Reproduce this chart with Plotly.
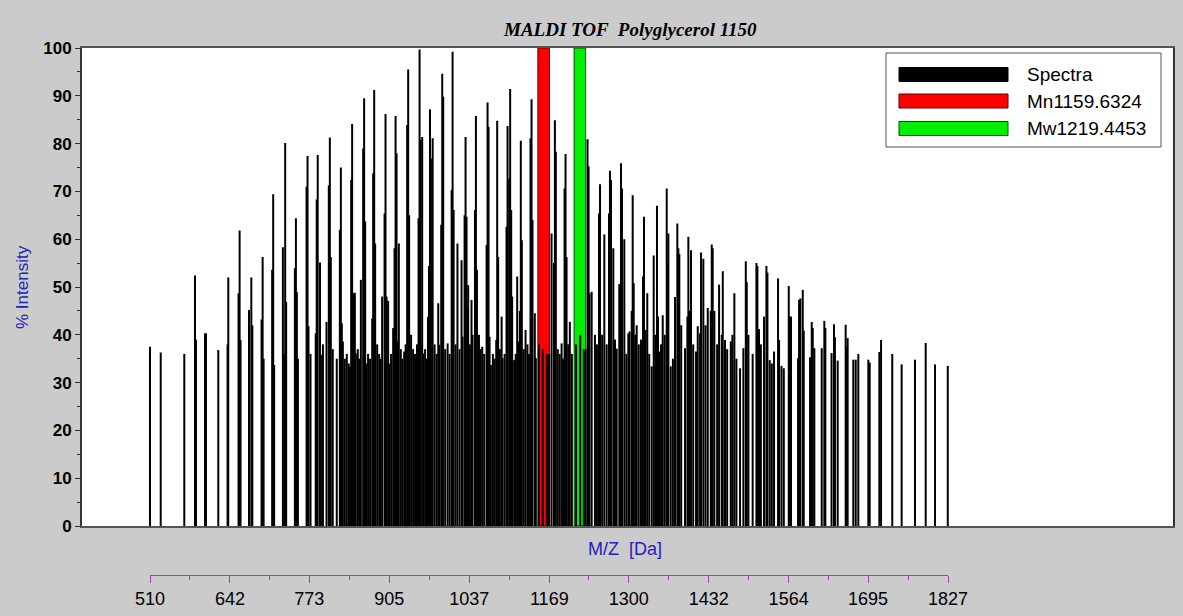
import plotly.graph_objects as go

# ---------------- data ----------------
mz = [510.0, 527.7, 566.6, 584.3, 585.9, 600.8, 602.4, 622.7, 638.0, 639.2,
      656.1, 657.9, 659.4, 673.4, 677.2, 678.9, 694.1, 695.9, 697.5, 711.6,
      713.3, 714.9, 729.3, 731.5, 733.1, 734.7, 749.1, 750.8, 752.4, 754.1,
      768.4, 770.0, 771.6, 783.5, 785.1, 786.8, 790.6, 792.1, 801.3, 805.1,
      806.8, 808.4, 823.3, 825.0, 826.6, 828.3, 840.3, 842.0, 843.6, 845.3,
      848.1, 849.7, 858.0, 861.8, 863.4, 865.1, 866.7, 876.7, 878.3, 880.0,
      881.6, 893.1, 897.1, 898.7, 900.4, 903.0, 904.7, 911.3, 913.6, 915.3,
      916.9, 918.6, 920.7, 929.5, 934.4, 936.1, 937.7, 953.2, 954.9, 956.5,
      959.2, 960.8, 968.8, 970.4, 972.1, 973.7, 976.5, 985.7, 987.3, 990.6,
      992.3, 993.9, 1001.2, 1007.8, 1009.4, 1011.1, 1017.4, 1024.2, 1025.8, 1029.2,
      1030.8, 1032.4, 1033.8, 1035.1, 1040.6, 1042.3, 1046.3, 1047.9, 1049.6, 1058.3,
      1065.5, 1067.1, 1068.7, 1070.4, 1072.6, 1081.4, 1083.0, 1084.6, 1090.3, 1091.9,
      1098.4, 1100.1, 1102.8, 1104.4, 1106.1, 1107.7, 1111.0, 1116.0, 1117.6, 1120.4,
      1122.0, 1123.7, 1129.8, 1138.0, 1139.7, 1141.3, 1145.1, 1146.8, 1152.0, 1158.0,
      1165.0, 1168.8, 1172.7, 1176.5, 1178.2, 1179.8, 1189.3, 1194.2, 1195.8, 1197.5,
      1202.9, 1213.0, 1220.0, 1226.0, 1232.1, 1233.8, 1235.4, 1238.9, 1244.3, 1251.0,
      1252.7, 1259.8, 1267.5, 1269.1, 1270.8, 1274.6, 1280.2, 1284.5, 1287.3, 1289.0,
      1292.8, 1299.4, 1301.5, 1305.0, 1306.6, 1308.3, 1313.2, 1320.3, 1323.6, 1325.3,
      1330.7, 1338.0, 1341.3, 1346.7, 1348.4, 1350.6, 1356.2, 1362.8, 1364.5, 1365.5,
      1369.4, 1376.5, 1380.3, 1382.0, 1383.6, 1393.0, 1396.9, 1398.5, 1402.9, 1411.2,
      1414.0, 1417.8, 1419.4, 1423.2, 1430.5, 1435.4, 1437.1, 1438.7, 1449.2, 1453.6,
      1455.3, 1459.0, 1468.5, 1474.4, 1483.8, 1489.3, 1493.3, 1494.9, 1504.6, 1510.8,
      1512.4, 1515.1, 1523.4, 1527.3, 1529.0, 1532.8, 1539.9, 1546.5, 1548.2, 1552.2,
      1564.2, 1565.8, 1567.9, 1579.5, 1581.2, 1583.3, 1587.3, 1588.9, 1599.3, 1602.1,
      1603.8, 1606.4, 1618.6, 1622.9, 1624.6, 1634.8, 1638.8, 1640.4, 1644.9, 1658.1,
      1659.8, 1661.4, 1670.7, 1674.7, 1679.0, 1695.5, 1697.8, 1713.7, 1716.5, 1735.0,
      1750.5, 1772.5, 1790.2, 1805.6, 1826.6]

intensity = [37.5, 36.3, 36.0, 52.4, 39.0, 40.3, 40.3, 36.8, 38.0, 52.0,
             48.7, 61.8, 38.9, 45.2, 52.0, 42.0, 43.2, 56.3, 35.0, 53.6,
             69.4, 33.7, 58.3, 36.0, 80.1, 46.9, 53.9, 64.4, 49.0, 35.0,
             71.0, 77.4, 41.8, 40.3, 68.3, 77.6, 55.1, 35.8, 42.7, 71.3,
             81.3, 56.3, 62.0, 75.0, 42.4, 38.6, 33.3, 72.4, 84.1, 48.7,
             48.8, 36.1, 51.5, 79.0, 89.5, 63.7, 34.0, 43.4, 73.8, 91.2,
             59.1, 48.0, 65.4, 86.2, 48.0, 47.1, 34.0, 41.4, 58.1, 85.8,
             78.0, 38.6, 59.1, 36.5, 83.9, 95.5, 65.0, 64.4, 99.7, 80.8,
             81.4, 36.1, 43.8, 54.4, 87.2, 76.9, 81.1, 46.6, 37.9, 63.0,
             94.6, 89.8, 38.2, 70.3, 99.2, 66.1, 59.1, 55.6, 39.6, 65.0,
             81.4, 64.7, 45.3, 50.4, 47.3, 40.0, 66.1, 85.8, 53.6, 37.5,
             58.8, 88.6, 83.5, 39.6, 33.7, 38.9, 84.8, 56.3, 43.8, 35.1,
             62.6, 83.7, 72.7, 91.4, 66.1, 48.0, 34.7, 52.2, 38.6, 45.0,
             80.6, 59.8, 41.0, 81.1, 89.3, 64.0, 44.5, 35.1, 38.0, 37.0,
             36.0, 36.0, 61.2, 55.0, 84.9, 78.3, 38.2, 70.6, 77.8, 56.3,
             42.7, 38.0, 40.0, 37.0, 80.9, 75.2, 48.7, 49.0, 40.0, 65.4,
             71.5, 61.0, 65.4, 74.3, 72.4, 58.1, 37.1, 50.6, 75.9, 70.6,
             60.0, 40.3, 40.7, 45.0, 69.2, 50.8, 42.0, 39.0, 52.2, 64.7,
             48.7, 33.4, 56.6, 67.0, 43.8, 36.5, 44.1, 70.6, 54.6, 61.2,
             33.4, 47.9, 63.3, 58.1, 56.9, 37.2, 43.8, 60.5, 57.7, 36.5,
             41.8, 40.3, 57.2, 55.9, 45.6, 45.0, 58.9, 58.1, 50.5, 40.0,
             53.3, 38.9, 38.6, 48.7, 33.0, 37.2, 55.4, 51.0, 36.0, 55.0,
             54.4, 41.2, 43.8, 54.4, 53.0, 34.7, 36.5, 51.8, 38.9, 33.5,
             50.2, 43.8, 43.8, 35.1, 47.3, 47.6, 49.4, 40.9, 35.3, 42.7,
             41.4, 37.2, 37.2, 42.9, 41.4, 36.2, 42.2, 39.5, 34.6, 42.1,
             37.5, 39.3, 34.8, 34.8, 36.0, 34.8, 34.2, 36.4, 38.9, 36.0,
             33.8, 34.8, 38.3, 33.8, 33.5]

# low-intensity peaks that fill the dense base of the distribution
base_mz = [774.9, 795.4, 811.6, 818.2, 831.5, 834.8, 838.0, 852.9, 855.3, 869.9,
           873.2, 884.9, 888.2, 890.5, 907.9, 923.9, 926.5, 931.9, 940.9, 944.2,
           947.4, 950.6, 964.0, 966.4, 979.7, 982.9, 997.2, 1004.5, 1014.3, 1020.8,
           1037.9, 1052.9, 1055.6, 1061.5, 1075.9, 1078.6, 1087.4, 1095.2, 1113.5, 1126.8,
           1132.9, 1135.5, 1183.0, 1186.2, 1191.7, 1200.2, 1206.2, 1229.0, 1247.6, 1256.2,
           1263.7, 1277.4, 1296.1, 1310.8, 1316.6, 1328.0, 1333.9, 1343.9, 1353.4, 1359.5,
           1373.0, 1386.7, 1400.5, 1406.5, 1426.8, 1441.4, 1446.0, 1462.5, 1471.2, 1477.8,
           1497.6, 1518.2, 1536.2, 1556.0]
base_int = [36, 38, 37, 35, 35, 36, 34, 37, 35, 36,
            35, 38, 36, 35, 36, 37, 35, 38, 40, 37,
            36, 38, 37, 35, 38, 36, 37, 36, 38, 37,
            38, 40, 37, 36, 36, 35, 37, 36, 36, 37,
            38, 36, 37, 36, 35, 38, 36, 37, 38, 40,
            38, 39, 36, 40, 38, 41, 36, 40, 38, 40,
            35, 42, 45, 38, 42, 45, 38, 37, 40, 35,
            40, 38, 34, 33]

mn_value = 1159.6324
mw_value = 1219.4453
marker_height = 100
legend_labels = ["Spectra", "Mn1159.6324", "Mw1219.4453"]
bottom_ticks = [510, 642, 773, 905, 1037, 1169, 1300, 1432, 1564, 1695, 1827]
y_ticks = [0, 10, 20, 30, 40, 50, 60, 70, 80, 90, 100]

# ---------------- geometry (target pixel positions) ----------------
W, H = 1183, 616
L, R, T, B = 82, 10, 48, 41
PW, PH = W - L - R, H - T - B
PLOT_BOTTOM_PX = 526


def px_x(px):
    return (px - L) / PW


def px_y(py):
    return (H - B - py) / PH


purple = "#9c3fb0"
blue = "#2222bb"

sx, sy = [], []
for m, v in list(zip(base_mz, base_int)) + list(zip(mz, intensity)):
    sx += [m, m, None]
    sy += [0, v, None]

fig = go.Figure()
fig.add_trace(go.Scatter(x=sx, y=sy, mode="lines",
                         line=dict(color="black", width=2),
                         hoverinfo="skip", showlegend=False))
fig.add_trace(go.Bar(x=[mn_value], y=[marker_height], width=19,
                     marker=dict(color="#ff0000", line=dict(color="#600000", width=1)),
                     showlegend=False))
fig.add_trace(go.Bar(x=[mw_value], y=[marker_height], width=19,
                     marker=dict(color="#00ee00", line=dict(color="#005000", width=1)),
                     showlegend=False))
fig.add_trace(go.Scatter(x=[bottom_ticks[0], bottom_ticks[-1]], y=[-50, -50],
                         xaxis="x2", yaxis="y", mode="markers",
                         marker=dict(opacity=0), hoverinfo="skip", showlegend=False))

minor_vals = [(a + b) / 2 for a, b in zip(bottom_ticks[:-1], bottom_ticks[1:])]

x_lo = 510 - (150 - L) * (1827 - 510) / (948 - 150)
x_hi = 510 + (L + PW - 150) * (1827 - 510) / (948 - 150)

fig.update_layout(
    width=W, height=H, autosize=False,
    margin=dict(l=L, r=R, t=T, b=B, pad=0, autoexpand=False),
    paper_bgcolor="#cbcbcb",
    plot_bgcolor="rgba(0,0,0,0)",
    barmode="overlay",
    showlegend=False,
    font=dict(family="Liberation Sans, Arial", color="black"),
    xaxis=dict(range=[x_lo, x_hi], domain=[0, 1], anchor="y", automargin=False,
               showticklabels=False, ticks="", showgrid=False, zeroline=False,
               showline=True, linecolor="#555555", linewidth=2, mirror=True),
    yaxis=dict(range=[0, 100], domain=[px_y(PLOT_BOTTOM_PX), 1], automargin=False,
               tickvals=y_ticks, ticks="outside", ticklen=5, tickcolor="#333333",
               tickfont=dict(size=17, weight="bold", family="Liberation Sans, Arial"),
               showgrid=False, zeroline=False,
               showline=True, linecolor="#333333", linewidth=2, mirror=True,
               minor=dict(ticks="outside", ticklen=3, dtick=5, tickcolor="#333333")),
    xaxis2=dict(range=[bottom_ticks[0], bottom_ticks[-1]],
                domain=[px_x(150), px_x(948)], automargin=False,
                anchor="free", position=0,
                side="bottom", tickvals=bottom_ticks,
                ticktext=[str(t) for t in bottom_ticks],
                ticks="outside", ticklen=7, tickcolor=purple, tickwidth=1,
                showline=True, linecolor=purple, linewidth=1,
                showgrid=False, zeroline=False,
                tickfont=dict(size=18, family="Liberation Sans, Arial"),
                minor=dict(tickvals=minor_vals, ticks="outside", ticklen=4,
                           tickcolor=purple)),
)

annotations = [
    dict(text="<b><i>MALDI TOF  Polyglycerol 1150</i></b>", x=px_x(630), y=px_y(30),
         xref="paper", yref="paper", showarrow=False, xanchor="center", yanchor="middle",
         font=dict(family="Liberation Serif, Times New Roman", size=19, color="black")),
    dict(text="M/Z  [Da]", x=px_x(625), y=px_y(549), xref="paper", yref="paper",
         showarrow=False, xanchor="center", yanchor="middle",
         font=dict(size=18, color=blue)),
    dict(text="% Intensity", x=px_x(22), y=px_y(287), xref="paper", yref="paper",
         showarrow=False, xanchor="center", yanchor="middle", textangle=-90,
         font=dict(size=17, color=blue)),
]

shapes = [
    dict(type="rect", xref="x domain", yref="y domain", x0=0, x1=1, y0=0, y1=1,
         line=dict(width=0), fillcolor="white", layer="below"),
    dict(type="rect", xref="paper", yref="paper",
         x0=px_x(886), x1=px_x(1161), y0=px_y(53), y1=px_y(147),
         line=dict(color="#555555", width=1), fillcolor="white"),
]
swatches = [("black", "black", 74.5), ("#ff0000", "#600000", 101), ("#00ee00", "#005000", 128.5)]
for (fc, lc, cy), label in zip(swatches, legend_labels):
    shapes.append(dict(type="rect", xref="paper", yref="paper",
                       x0=px_x(899), x1=px_x(1008), y0=px_y(cy - 7), y1=px_y(cy + 7),
                       line=dict(color=lc, width=1), fillcolor=fc))
    annotations.append(dict(text=label, x=px_x(1025), y=px_y(cy), xref="paper", yref="paper",
                            showarrow=False, xanchor="left", yanchor="middle",
                            font=dict(size=19, color="black")))

fig.update_layout(annotations=annotations, shapes=shapes)
fig.write_html("out.html", config={"responsive": False})
